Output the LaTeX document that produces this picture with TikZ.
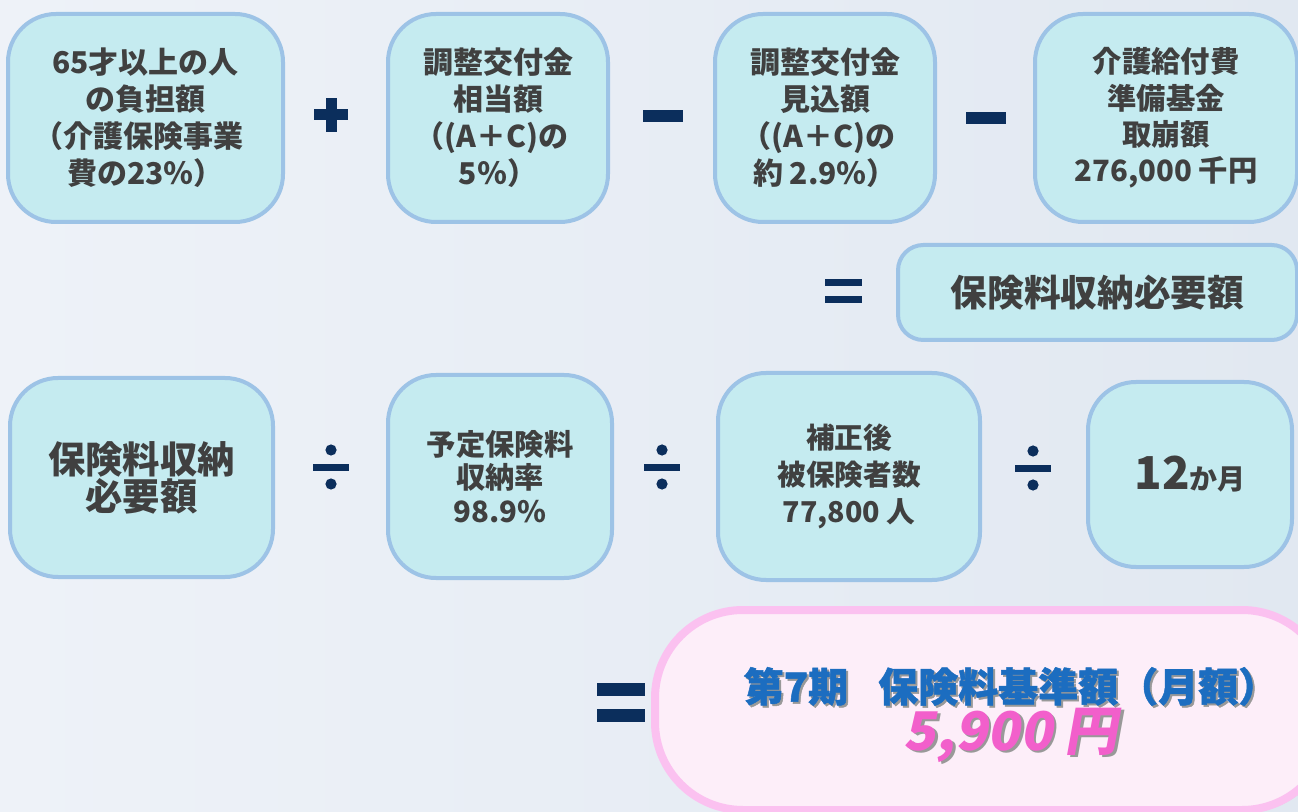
\documentclass[tikz,border=0pt]{standalone}
\usepackage{fontspec}
\setmainfont{Noto Sans CJK JP}
\newfontfamily\slantjp{Noto Sans CJK JP}[FakeSlant=0.18]
\newfontfamily\heavyjp{Noto Sans CJK JP}[BoldFeatures={FakeBold=1.2}]
\usetikzlibrary{shadows}
\definecolor{bgA}{HTML}{EEF2F8}
\definecolor{bgB}{HTML}{E1E8F1}
\definecolor{boxfill}{HTML}{C5EBF0}
\definecolor{boxline}{HTML}{9DC3E6}
\definecolor{txt}{HTML}{404040}
\definecolor{opcol}{HTML}{0B2E5C}
\definecolor{pinkfill}{HTML}{FDEEF9}
\definecolor{pinkline}{HTML}{FBC1F0}
\definecolor{bluetxt}{HTML}{1C6DC0}
\definecolor{pinktxt}{HTML}{F25FCB}
\newcommand\shadowtxt[3]{\makebox[0pt][l]{\raisebox{-#3}{\hspace{#3}\textcolor{black!40}{#2}}}\textcolor{#1}{#2}}
\newcommand\lpar{\hspace*{-0.45em}（}
\begin{document}
\begin{tikzpicture}[x=0.75pt,y=-0.75pt,
  box/.style={draw=boxline, line width=3pt, fill=boxfill, rounded corners=36pt,
    text=txt, align=center, inner sep=0pt,
    font=\bfseries\fontsize{22.5}{27.75}\selectfont},
  opshape/.style={fill=opcol},
  lbl/.style={align=center, inner sep=0pt}]
\useasboundingbox (0,0) rectangle (1298,812);
\clip (0,0) rectangle (1298,812);
\shade[left color=bgA, right color=bgB] (0,0) rectangle (1298,812);

% ---- top row
\node[box, minimum width=206.25pt, minimum height=156pt] (b1) at (145.5,118)
  {65才以上の人\\の負担額\\\lpar 介護保険事業\\費の23％）};
\node[box, minimum width=165pt, minimum height=156pt] (b2) at (498,118)
  {調整交付金\\相当額\\\lpar (A＋C)の\\5％）};
\node[box, minimum width=165pt, minimum height=156pt] (b3) at (825,118)
  {調整交付金\\見込額\\\lpar (A＋C)の\\約 2.9％）};
\node[box, minimum width=196.5pt, minimum height=156pt,
  font=\bfseries\fontsize{22}{27.25}\selectfont] (b4) at (1166,118)
  {介護給付費\\準備基金\\取崩額\\276,000 千円};

% operators top row
\fill[opshape] (314,109.5) rectangle (348,120.5);
\fill[opshape] (325.5,98) rectangle (336.5,132);
\fill[opshape] (643,110) rectangle (683,122);
\fill[opshape] (966,112) rectangle (1006,124);

% ---- middle
\fill[opshape] (825,279) rectangle (862,286);
\fill[opshape] (825,296) rectangle (862,303);
\node[box, rounded corners=19pt, minimum width=299.25pt, minimum height=71.25pt,
  font=\bfseries\fontsize{27.5}{30}\selectfont] (mid) at (1097.5,292.5) {保険料収納必要額};

% ---- second row
\node[box, minimum width=197.25pt, minimum height=149.25pt,
  font=\bfseries\fontsize{28}{25.5}\selectfont] (c1) at (141.5,477.5) {保険料収納\\必要額};
\node[box, minimum width=168pt, minimum height=152.25pt,
  font=\bfseries\fontsize{22}{25}\selectfont] (c2) at (500,476.5) {予定保険料\\収納率\\98.9\%};
\node[box, minimum width=196.5pt, minimum height=155.25pt,
  font=\bfseries\fontsize{21.5}{27.5}\selectfont] (c3) at (849,476.5) {補正後\\被保険者数\\77,800 人};
\node[box, minimum width=153pt, minimum height=138.75pt] (c4) at (1190,474.5)
  {{\fontsize{34}{34}\selectfont 12}{\fontsize{21}{21}\selectfont か月}};

% division signs
\foreach \cx/\cy in {331/467, 662/467, 1033/468}{
  \fill[opshape] (\cx-18,\cy-3.5) rectangle (\cx+18,\cy+3.5);
  \fill[opshape] (\cx,\cy-17) circle[radius=4.2pt];
  \fill[opshape] (\cx,\cy+17) circle[radius=4.2pt];
}

% ---- result
\fill[opshape] (597,683) rectangle (645,696);
\fill[opshape] (597,709) rectangle (645,722);
\node[draw=pinkline, fill=pinkfill, line width=6pt, rounded corners=66pt,
  minimum width=506.25pt, minimum height=150pt,
  drop shadow={shadow xshift=2pt, shadow yshift=-2pt, opacity=0.25}] (res) at (992.5,710) {};
\node[lbl] (rtxt) at (1011,716)
  {{\heavyjp\bfseries\fontsize{30}{30}\selectfont\shadowtxt{bluetxt}{第7期\hspace{0.75em}保険料基準額（月額）}{1.5pt}}\\[-1pt]
   {\slantjp\bfseries\fontsize{40}{34}\selectfont\shadowtxt{pinktxt}{5,900 円}{2pt}}};
\end{tikzpicture}
\end{document}
